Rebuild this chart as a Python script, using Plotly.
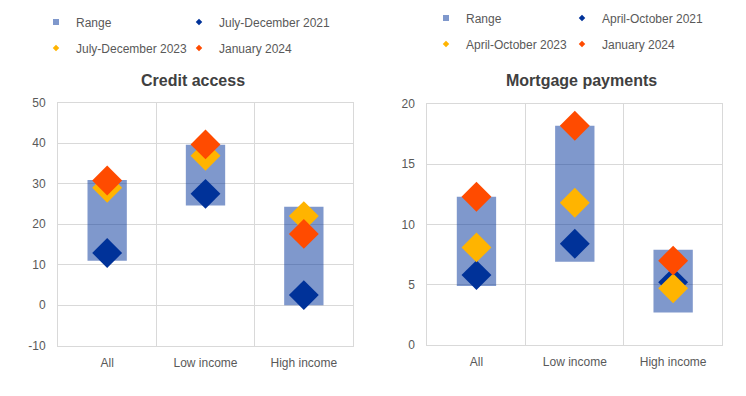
import plotly.graph_objects as go

categories = ["All", "Low income", "High income"]

# Credit access
credit_low = [11.0, 24.6, 0.0]
credit_high = [30.9, 39.6, 24.3]
credit_2021 = [12.9, 27.5, 2.5]
credit_2023 = [29.0, 36.9, 22.0]
credit_2024 = [30.8, 39.7, 17.6]
credit_labels = ["Range", "July-December 2021", "July-December 2023", "January 2024"]
credit_ticks = [-10, 0, 10, 20, 30, 40, 50]
credit_ticktext = ["-10", "0", "10", "20", "30", "40", "50"]

# Mortgage payments
mort_low = [4.9, 6.9, 2.7]
mort_high = [12.3, 18.2, 7.9]
mort_2021 = [5.8, 8.4, 5.2]
mort_2023 = [8.1, 11.8, 4.7]
mort_2024 = [12.3, 18.2, 7.0]
mort_labels = ["Range", "April-October 2021", "April-October 2023", "January 2024"]
mort_ticks = [0, 5, 10, 15, 20]
mort_ticktext = ["0", "5", "10", "15", "20"]

RANGE_C = "rgba(0,50,153,0.5)"
BLUE = "#003299"
YELLOW = "#FFB400"
ORANGE = "#FF4B00"
FONT = "Liberation Sans, Arial, sans-serif"
GRID = "#D9D9D9"
TXT = "#595959"

W, H = 746, 396
fig = go.Figure()


def panel(xa, ya, low, high, s21, s23, s24, labels, legs):
    fig.add_trace(go.Bar(x=categories, y=[h - l for h, l in zip(high, low)], base=low,
                         width=0.4, marker=dict(color=RANGE_C, line=dict(width=0)),
                         xaxis=xa, yaxis=ya, showlegend=False, hoverinfo="skip"))
    for vals, col in ((s21, BLUE), (s23, YELLOW), (s24, ORANGE)):
        fig.add_trace(go.Scatter(x=categories, y=vals, mode="markers",
                                 marker=dict(symbol="diamond", size=23, color=col,
                                             line=dict(width=0)),
                                 xaxis=xa, yaxis=ya, showlegend=False))
    # legend-only entries with small symbols
    specs = [("square", RANGE_C, 6), ("diamond", BLUE, 5),
             ("diamond", YELLOW, 5), ("diamond", ORANGE, 5)]
    for lab, (sym, col, sz), lg in zip(labels, specs, legs):
        fig.add_trace(go.Scatter(x=[None], y=[None], mode="markers", name=lab,
                                 marker=dict(symbol=sym, size=sz, color=col),
                                 xaxis=xa, yaxis=ya, showlegend=True, legend=lg))


panel("x", "y", credit_low, credit_high, credit_2021, credit_2023, credit_2024,
      credit_labels, ["legend", "legend2", "legend3", "legend4"])
panel("x2", "y2", mort_low, mort_high, mort_2021, mort_2023, mort_2024,
      mort_labels, ["legend5", "legend6", "legend7", "legend8"])

xcommon = dict(type="category", tickson="boundaries", showgrid=True, gridcolor=GRID,
               gridwidth=1, showline=True, mirror=True, linecolor=GRID, linewidth=1,
               range=[-0.5, 2.5], ticks="", tickfont=dict(family=FONT, size=12, color=TXT),
               ticklabelstandoff=6, fixedrange=True, automargin=False)
ycommon = dict(showgrid=True, gridcolor=GRID, gridwidth=1, showline=True, mirror=True,
               linecolor=GRID, linewidth=1, zeroline=False, ticks="",
               tickfont=dict(family=FONT, size=12, color=TXT), ticklabelstandoff=9,
               fixedrange=True, automargin=False, tickmode="array")


def leg(text_x, y):
    return dict(orientation="v", x=(text_x - 40) / W, y=1 - y / H, xanchor="left",
                yanchor="middle", bgcolor="rgba(0,0,0,0)",
                font=dict(family=FONT, size=12, color=TXT))


fig.update_layout(
    width=W, height=H, margin=dict(l=0, r=0, t=0, b=0, autoexpand=False),
    paper_bgcolor="white", plot_bgcolor="white", barmode="overlay",
    xaxis=dict(xcommon, domain=[58 / W, 353 / W], anchor="y"),
    yaxis=dict(ycommon, domain=[(H - 345.7) / H, (H - 102.7) / H], range=[-10, 50],
               tickvals=credit_ticks, ticktext=credit_ticktext, anchor="x"),
    xaxis2=dict(xcommon, domain=[427.3 / W, 722.3 / W], anchor="y2"),
    yaxis2=dict(ycommon, domain=[(H - 345) / H, (H - 104) / H], range=[0, 20],
                tickvals=mort_ticks, ticktext=mort_ticktext, anchor="x2"),
    legend=leg(76, 22),
    legend2=leg(219, 22),
    legend3=leg(76, 48),
    legend4=leg(219, 48),
    legend5=leg(466, 18),
    legend6=leg(602, 18),
    legend7=leg(466, 44),
    legend8=leg(602, 44),
    annotations=[
        dict(text="<b>Credit access</b>", x=193 / W, y=1 - 80.5 / H, xref="paper",
             yref="paper", showarrow=False, xanchor="center", yanchor="middle",
             font=dict(family=FONT, size=16, color="#404040")),
        dict(text="<b>Mortgage payments</b>", x=581.5 / W, y=1 - 80.5 / H, xref="paper",
             yref="paper", showarrow=False, xanchor="center", yanchor="middle",
             font=dict(family=FONT, size=16, color="#404040")),
    ],
    showlegend=True,
)

fig.write_html("out.html", config={"displayModeBar": False},
               post_script="document.body.style.margin='0px';"
                           "document.body.style.overflow='hidden';")
